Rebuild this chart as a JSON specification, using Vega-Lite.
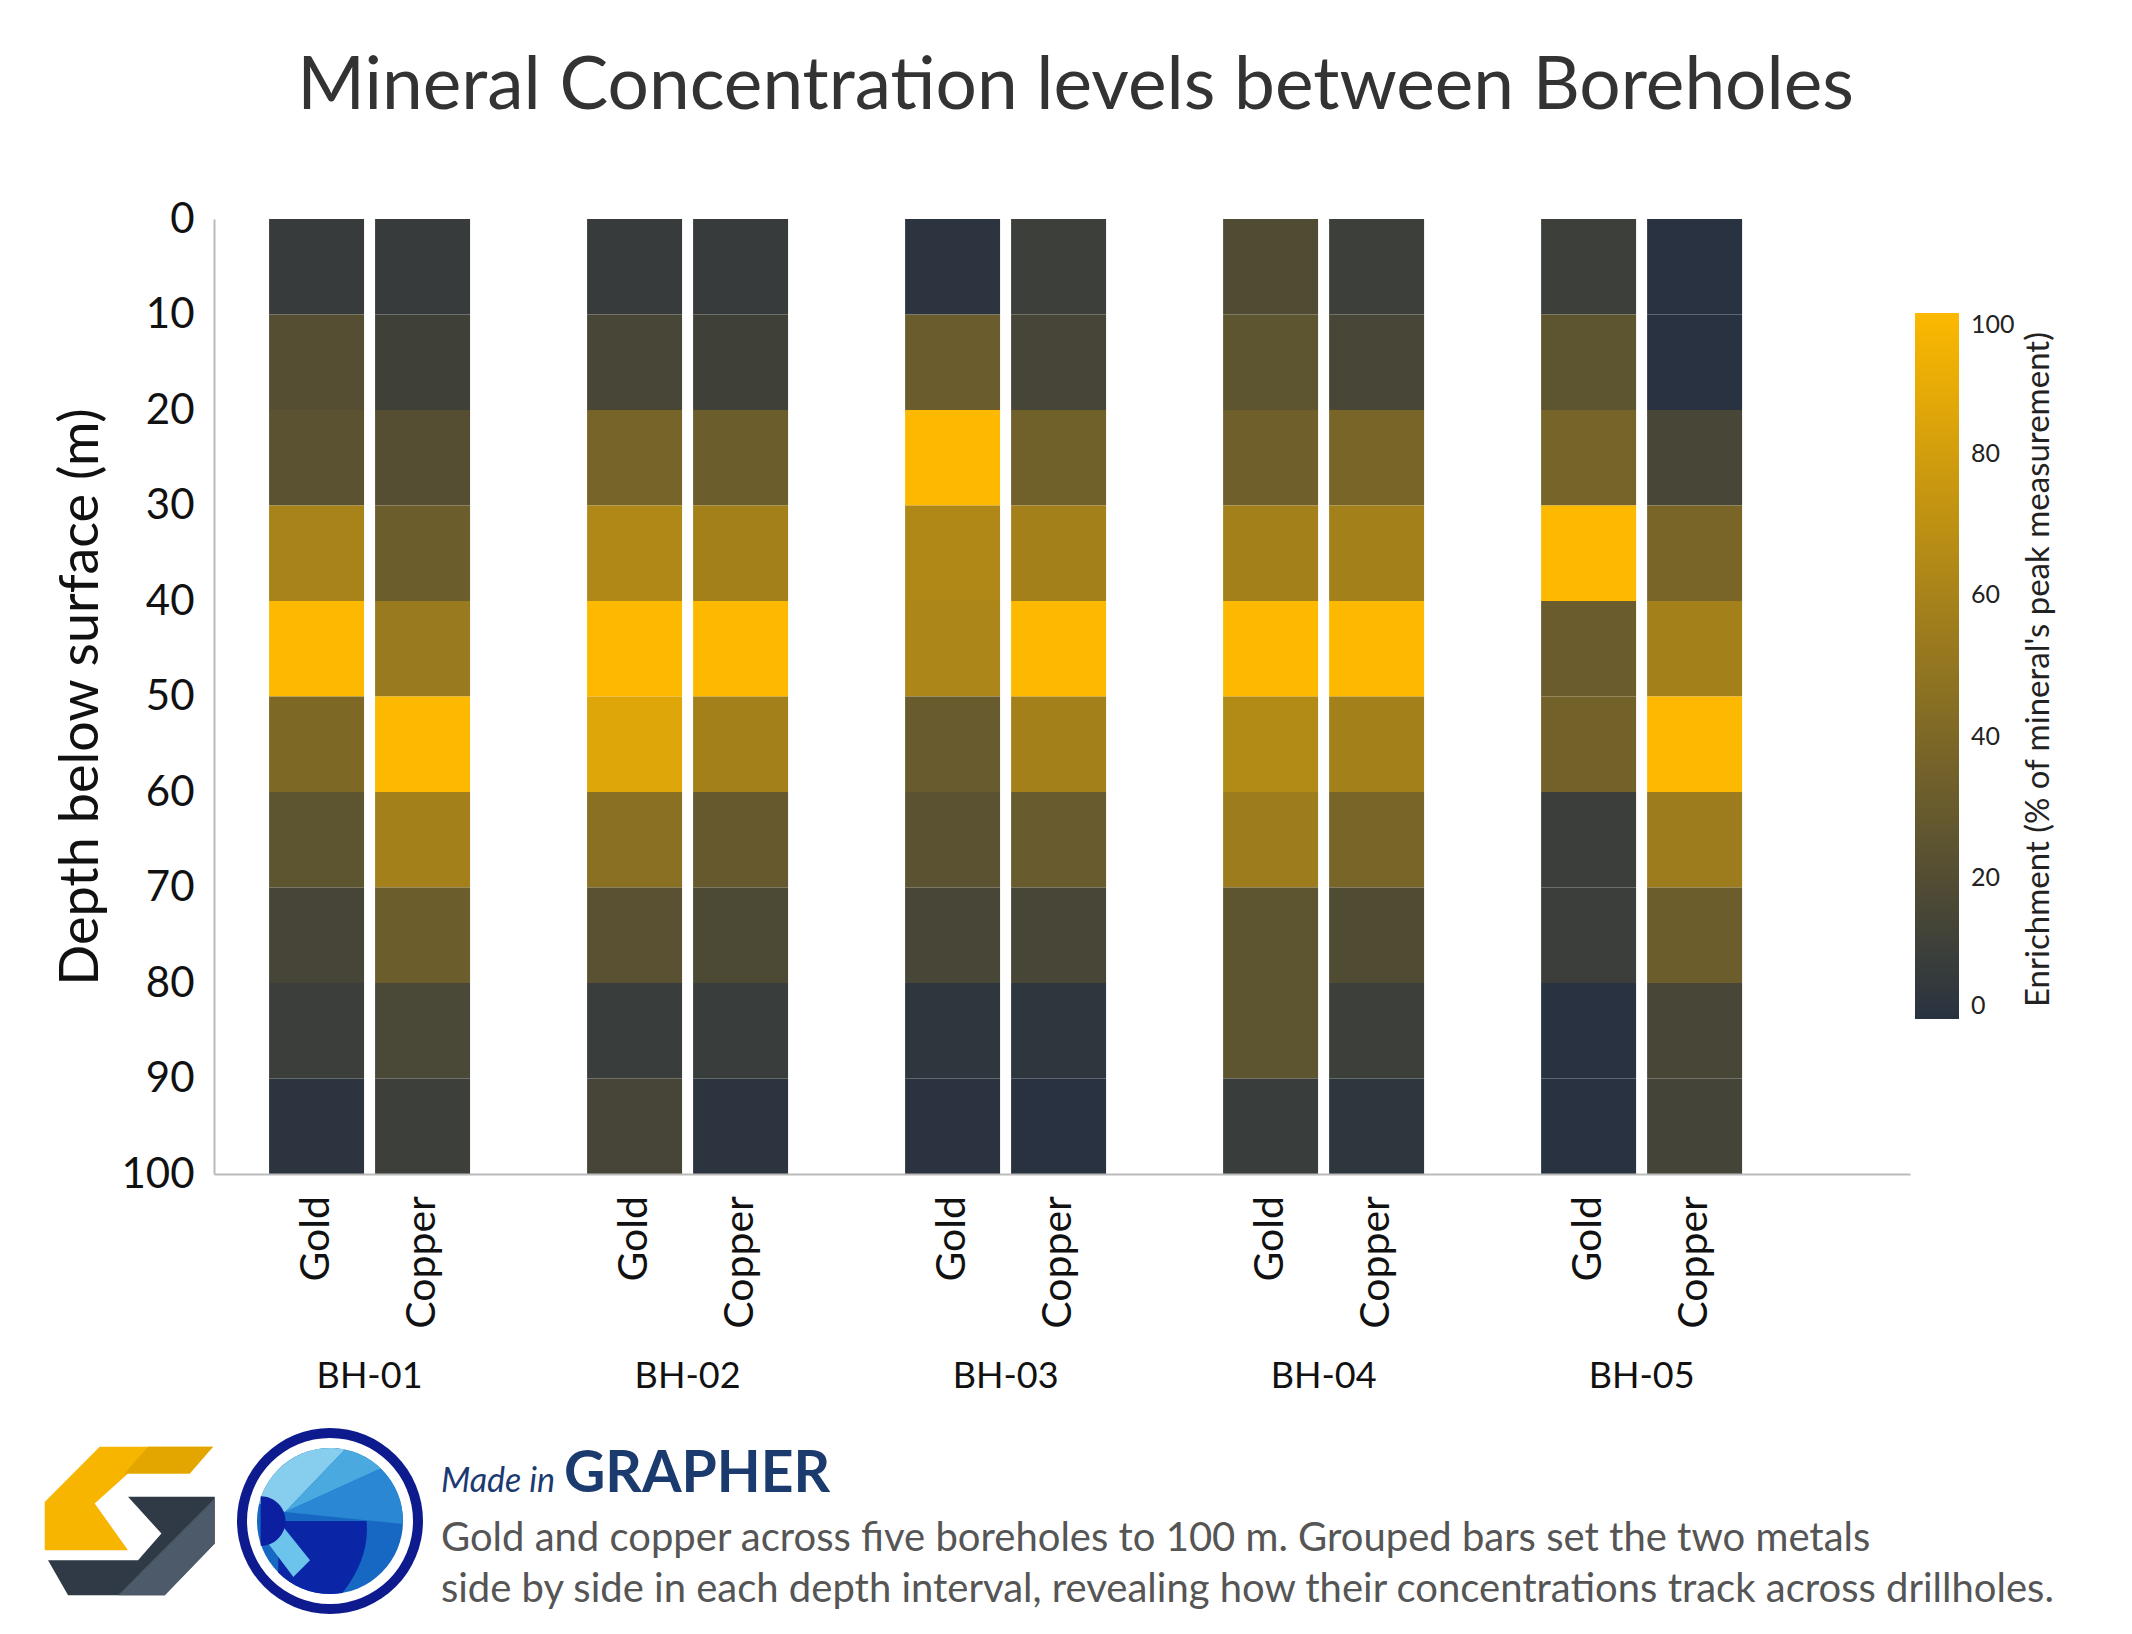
{
  "$schema": "https://vega.github.io/schema/vega-lite/v6.json",
  "background": "white",
  "padding": {"left": 44, "top": 51, "right": 10, "bottom": 10},
  "title": {"text": "Mineral Concentration levels between Boreholes", "font": "Lato", "fontSize": 73, "fontWeight": "normal", "color": "#333333", "anchor": "middle", "dx": 25, "offset": 74},
  "spacing": 34,
  "vconcat": [
    {
      "width": 1696,
      "height": 955,
      "data": {"values": [
        {"borehole":"BH-01","mineral":"Gold","top":0,"bottom":10,"value":7},
        {"borehole":"BH-01","mineral":"Gold","top":10,"bottom":20,"value":21},
        {"borehole":"BH-01","mineral":"Gold","top":20,"bottom":30,"value":24},
        {"borehole":"BH-01","mineral":"Gold","top":30,"bottom":40,"value":60},
        {"borehole":"BH-01","mineral":"Gold","top":40,"bottom":50,"value":100},
        {"borehole":"BH-01","mineral":"Gold","top":50,"bottom":60,"value":40},
        {"borehole":"BH-01","mineral":"Gold","top":60,"bottom":70,"value":25},
        {"borehole":"BH-01","mineral":"Gold","top":70,"bottom":80,"value":14},
        {"borehole":"BH-01","mineral":"Gold","top":80,"bottom":90,"value":9},
        {"borehole":"BH-01","mineral":"Gold","top":90,"bottom":100,"value":2},
        {"borehole":"BH-01","mineral":"Copper","top":0,"bottom":10,"value":7},
        {"borehole":"BH-01","mineral":"Copper","top":10,"bottom":20,"value":11},
        {"borehole":"BH-01","mineral":"Copper","top":20,"bottom":30,"value":21},
        {"borehole":"BH-01","mineral":"Copper","top":30,"bottom":40,"value":32},
        {"borehole":"BH-01","mineral":"Copper","top":40,"bottom":50,"value":53},
        {"borehole":"BH-01","mineral":"Copper","top":50,"bottom":60,"value":100},
        {"borehole":"BH-01","mineral":"Copper","top":60,"bottom":70,"value":58},
        {"borehole":"BH-01","mineral":"Copper","top":70,"bottom":80,"value":32},
        {"borehole":"BH-01","mineral":"Copper","top":80,"bottom":90,"value":16},
        {"borehole":"BH-01","mineral":"Copper","top":90,"bottom":100,"value":10},
        {"borehole":"BH-02","mineral":"Gold","top":0,"bottom":10,"value":7},
        {"borehole":"BH-02","mineral":"Gold","top":10,"bottom":20,"value":15},
        {"borehole":"BH-02","mineral":"Gold","top":20,"bottom":30,"value":37},
        {"borehole":"BH-02","mineral":"Gold","top":30,"bottom":40,"value":64},
        {"borehole":"BH-02","mineral":"Gold","top":40,"bottom":50,"value":100},
        {"borehole":"BH-02","mineral":"Gold","top":50,"bottom":60,"value":86},
        {"borehole":"BH-02","mineral":"Gold","top":60,"bottom":70,"value":46},
        {"borehole":"BH-02","mineral":"Gold","top":70,"bottom":80,"value":23},
        {"borehole":"BH-02","mineral":"Gold","top":80,"bottom":90,"value":8},
        {"borehole":"BH-02","mineral":"Gold","top":90,"bottom":100,"value":14},
        {"borehole":"BH-02","mineral":"Copper","top":0,"bottom":10,"value":7},
        {"borehole":"BH-02","mineral":"Copper","top":10,"bottom":20,"value":11},
        {"borehole":"BH-02","mineral":"Copper","top":20,"bottom":30,"value":32},
        {"borehole":"BH-02","mineral":"Copper","top":30,"bottom":40,"value":58},
        {"borehole":"BH-02","mineral":"Copper","top":40,"bottom":50,"value":100},
        {"borehole":"BH-02","mineral":"Copper","top":50,"bottom":60,"value":58},
        {"borehole":"BH-02","mineral":"Copper","top":60,"bottom":70,"value":29},
        {"borehole":"BH-02","mineral":"Copper","top":70,"bottom":80,"value":17},
        {"borehole":"BH-02","mineral":"Copper","top":80,"bottom":90,"value":8},
        {"borehole":"BH-02","mineral":"Copper","top":90,"bottom":100,"value":2},
        {"borehole":"BH-03","mineral":"Gold","top":0,"bottom":10,"value":2},
        {"borehole":"BH-03","mineral":"Gold","top":10,"bottom":20,"value":31},
        {"borehole":"BH-03","mineral":"Gold","top":20,"bottom":30,"value":100},
        {"borehole":"BH-03","mineral":"Gold","top":30,"bottom":40,"value":64},
        {"borehole":"BH-03","mineral":"Gold","top":40,"bottom":50,"value":62},
        {"borehole":"BH-03","mineral":"Gold","top":50,"bottom":60,"value":30},
        {"borehole":"BH-03","mineral":"Gold","top":60,"bottom":70,"value":24},
        {"borehole":"BH-03","mineral":"Gold","top":70,"bottom":80,"value":15},
        {"borehole":"BH-03","mineral":"Gold","top":80,"bottom":90,"value":3},
        {"borehole":"BH-03","mineral":"Gold","top":90,"bottom":100,"value":1},
        {"borehole":"BH-03","mineral":"Copper","top":0,"bottom":10,"value":10},
        {"borehole":"BH-03","mineral":"Copper","top":10,"bottom":20,"value":14},
        {"borehole":"BH-03","mineral":"Copper","top":20,"bottom":30,"value":34},
        {"borehole":"BH-03","mineral":"Copper","top":30,"bottom":40,"value":58},
        {"borehole":"BH-03","mineral":"Copper","top":40,"bottom":50,"value":100},
        {"borehole":"BH-03","mineral":"Copper","top":50,"bottom":60,"value":58},
        {"borehole":"BH-03","mineral":"Copper","top":60,"bottom":70,"value":30},
        {"borehole":"BH-03","mineral":"Copper","top":70,"bottom":80,"value":15},
        {"borehole":"BH-03","mineral":"Copper","top":80,"bottom":90,"value":3},
        {"borehole":"BH-03","mineral":"Copper","top":90,"bottom":100,"value":0},
        {"borehole":"BH-04","mineral":"Gold","top":0,"bottom":10,"value":19},
        {"borehole":"BH-04","mineral":"Gold","top":10,"bottom":20,"value":25},
        {"borehole":"BH-04","mineral":"Gold","top":20,"bottom":30,"value":33},
        {"borehole":"BH-04","mineral":"Gold","top":30,"bottom":40,"value":58},
        {"borehole":"BH-04","mineral":"Gold","top":40,"bottom":50,"value":100},
        {"borehole":"BH-04","mineral":"Gold","top":50,"bottom":60,"value":65},
        {"borehole":"BH-04","mineral":"Gold","top":60,"bottom":70,"value":55},
        {"borehole":"BH-04","mineral":"Gold","top":70,"bottom":80,"value":25},
        {"borehole":"BH-04","mineral":"Gold","top":80,"bottom":90,"value":25},
        {"borehole":"BH-04","mineral":"Gold","top":90,"bottom":100,"value":8},
        {"borehole":"BH-04","mineral":"Copper","top":0,"bottom":10,"value":10},
        {"borehole":"BH-04","mineral":"Copper","top":10,"bottom":20,"value":15},
        {"borehole":"BH-04","mineral":"Copper","top":20,"bottom":30,"value":38},
        {"borehole":"BH-04","mineral":"Copper","top":30,"bottom":40,"value":58},
        {"borehole":"BH-04","mineral":"Copper","top":40,"bottom":50,"value":100},
        {"borehole":"BH-04","mineral":"Copper","top":50,"bottom":60,"value":58},
        {"borehole":"BH-04","mineral":"Copper","top":60,"bottom":70,"value":38},
        {"borehole":"BH-04","mineral":"Copper","top":70,"bottom":80,"value":19},
        {"borehole":"BH-04","mineral":"Copper","top":80,"bottom":90,"value":10},
        {"borehole":"BH-04","mineral":"Copper","top":90,"bottom":100,"value":3},
        {"borehole":"BH-05","mineral":"Gold","top":0,"bottom":10,"value":10},
        {"borehole":"BH-05","mineral":"Gold","top":10,"bottom":20,"value":25},
        {"borehole":"BH-05","mineral":"Gold","top":20,"bottom":30,"value":37},
        {"borehole":"BH-05","mineral":"Gold","top":30,"bottom":40,"value":100},
        {"borehole":"BH-05","mineral":"Gold","top":40,"bottom":50,"value":31},
        {"borehole":"BH-05","mineral":"Gold","top":50,"bottom":60,"value":35},
        {"borehole":"BH-05","mineral":"Gold","top":60,"bottom":70,"value":9},
        {"borehole":"BH-05","mineral":"Gold","top":70,"bottom":80,"value":9},
        {"borehole":"BH-05","mineral":"Gold","top":80,"bottom":90,"value":0},
        {"borehole":"BH-05","mineral":"Gold","top":90,"bottom":100,"value":0},
        {"borehole":"BH-05","mineral":"Copper","top":0,"bottom":10,"value":0},
        {"borehole":"BH-05","mineral":"Copper","top":10,"bottom":20,"value":0},
        {"borehole":"BH-05","mineral":"Copper","top":20,"bottom":30,"value":15},
        {"borehole":"BH-05","mineral":"Copper","top":30,"bottom":40,"value":38},
        {"borehole":"BH-05","mineral":"Copper","top":40,"bottom":50,"value":58},
        {"borehole":"BH-05","mineral":"Copper","top":50,"bottom":60,"value":100},
        {"borehole":"BH-05","mineral":"Copper","top":60,"bottom":70,"value":55},
        {"borehole":"BH-05","mineral":"Copper","top":70,"bottom":80,"value":32},
        {"borehole":"BH-05","mineral":"Copper","top":80,"bottom":90,"value":15},
        {"borehole":"BH-05","mineral":"Copper","top":90,"bottom":100,"value":13}
      ]},
      "layer": [
        {
          "mark": {"type": "rect"},
          "encoding": {
            "x": {"field": "borehole", "type": "nominal", "sort": null,
              "scale": {"paddingInner": 0.368, "paddingOuter": 0.3506, "align": 0.247},
              "axis": {"title": null, "labelAngle": 0, "labelFont": "Lato", "labelFontSize": 36, "labelColor": "#111111", "labelPadding": 185, "ticks": false, "domainColor": "#bbbbbb", "domainWidth": 2}},
            "xOffset": {"field": "mineral", "type": "nominal", "sort": ["Gold", "Copper"], "scale": {"paddingInner": 0.104, "paddingOuter": 0}},
            "y": {"field": "top", "type": "quantitative",
              "scale": {"domain": [0, 100], "reverse": true, "nice": false, "zero": false},
              "axis": {"title": "Depth below surface (m)", "values": [0,10,20,30,40,50,60,70,80,90,100], "ticks": false, "grid": false, "domainColor": "#bbbbbb", "domainWidth": 2, "labelFont": "Lato", "labelFontSize": 42, "labelColor": "#111111", "labelPadding": 20, "titleFont": "Lato", "titleFontSize": 54, "titleFontWeight": "normal", "titleColor": "#111111", "titlePadding": 12}},
            "y2": {"field": "bottom"},
            "color": {"field": "value", "type": "quantitative",
              "scale": {"domain": [0, 100], "range": ["#283240", "#fdb900"], "interpolate": "rgb"},
              "legend": {"orient": "none", "legendX": 1701, "legendY": 94, "direction": "vertical", "gradientLength": 706, "gradientThickness": 44, "values": [0,20,40,60,80,100], "labelFont": "Lato", "labelFontSize": 25, "labelColor": "#222222", "labelOffset": 12, "title": null}}
          }
        },
        {
          "transform": [{"filter": "datum.bottom === 100"}],
          "mark": {"type": "text", "angle": 270, "align": "right", "baseline": "middle", "dx": -22, "font": "Lato", "fontSize": 41, "color": "#111111"},
          "encoding": {
            "x": {"field": "borehole", "type": "nominal", "sort": null},
            "xOffset": {"field": "mineral", "type": "nominal", "sort": ["Gold", "Copper"]},
            "y": {"field": "bottom", "type": "quantitative",
              "scale": {"domain": [0, 100], "reverse": true, "nice": false, "zero": false},
              "axis": {"orient": "right", "title": "Enrichment (% of mineral's peak measurement)", "titleAngle": 270, "titleX": 128, "titleY": 450, "titleAlign": "center", "titleBaseline": "middle", "titleFont": "Lato", "titleFontSize": 33, "titleFontWeight": "normal", "titleColor": "#222222", "titleLimit": 2000, "domain": false, "labels": false, "ticks": false, "grid": false}},
            "text": {"field": "mineral"}
          }
        }
      ],
      "resolve": {"scale": {"y": "independent"}, "axis": {"y": "independent"}}
    },
    {
      "width": 1696,
      "height": 160,
      "data": {"values": [
        {"part": "made", "label": "Made in"},
        {"part": "brand", "label": "GRAPHER"},
        {"part": "line1", "label": "Gold and copper across five boreholes to 100 m. Grouped bars set the two metals"},
        {"part": "line2", "label": "side by side in each depth interval, revealing how their concentrations track across drillholes."}
      ]},
      "layer": [
        {
          "transform": [{"filter": "datum.part === 'made'"}],
          "mark": {"type": "text", "align": "left", "baseline": "alphabetic", "font": "Lato", "fontStyle": "italic", "fontSize": 34, "color": "#1c3a72"},
          "encoding": {
            "x": {"datum": 13.38, "type": "quantitative", "scale": {"domain": [0, 100]}, "axis": null},
            "y": {"datum": 25.6, "type": "quantitative", "scale": {"domain": [0, 100], "reverse": true}, "axis": null},
            "text": {"field": "label"}
          }
        },
        {
          "transform": [{"filter": "datum.part === 'brand'"}],
          "mark": {"type": "text", "align": "left", "baseline": "alphabetic", "dx": 123, "font": "Lato", "fontWeight": "bold", "fontSize": 57, "color": "#1b3a6e"},
          "encoding": {
            "x": {"datum": 13.38, "type": "quantitative", "scale": {"domain": [0, 100]}},
            "y": {"datum": 25.6, "type": "quantitative", "scale": {"domain": [0, 100], "reverse": true}},
            "text": {"field": "label"}
          }
        },
        {
          "transform": [{"filter": "datum.part === 'line1'"}],
          "mark": {"type": "text", "align": "left", "baseline": "alphabetic", "font": "Lato", "fontSize": 40, "color": "#555555"},
          "encoding": {
            "x": {"datum": 13.38, "type": "quantitative", "scale": {"domain": [0, 100]}},
            "y": {"datum": 62.5, "type": "quantitative", "scale": {"domain": [0, 100], "reverse": true}},
            "text": {"field": "label"}
          }
        },
        {
          "transform": [{"filter": "datum.part === 'line2'"}],
          "mark": {"type": "text", "align": "left", "baseline": "alphabetic", "font": "Lato", "fontSize": 40, "color": "#555555"},
          "encoding": {
            "x": {"datum": 13.38, "type": "quantitative", "scale": {"domain": [0, 100]}},
            "y": {"datum": 94.4, "type": "quantitative", "scale": {"domain": [0, 100], "reverse": true}},
            "text": {"field": "label"}
          }
        },
        {
          "data": {"values": [{"logo": "golden"}]},
          "mark": {"type": "point", "filled": true, "opacity": 1, "strokeWidth": 0, "size": 28900, "color": "#f7b500", "shape": "M -0.353 -0.873 L 0.98 -0.873 L 0.706 -0.559 L -0.02 -0.559 L -0.412 -0.206 L -0.02 0.343 L -1 0.343 L -1 -0.225 Z"},
          "encoding": {
            "x": {"datum": -4.97, "type": "quantitative", "scale": {"domain": [0, 100]}},
            "y": {"datum": 43.75, "type": "quantitative", "scale": {"domain": [0, 100], "reverse": true}}
          }
        },
        {
          "data": {"values": [{"logo": "golden"}]},
          "mark": {"type": "point", "filled": true, "opacity": 1, "strokeWidth": 0, "size": 28900, "color": "#e3a600", "shape": "M 0.216 -0.873 L 0.98 -0.873 L 0.706 -0.559 L -0.06 -0.559 Z"},
          "encoding": {
            "x": {"datum": -4.97, "type": "quantitative", "scale": {"domain": [0, 100]}},
            "y": {"datum": 43.75, "type": "quantitative", "scale": {"domain": [0, 100], "reverse": true}}
          }
        },
        {
          "data": {"values": [{"logo": "golden"}]},
          "mark": {"type": "point", "filled": true, "opacity": 1, "strokeWidth": 0, "size": 28900, "color": "#2f3a46", "shape": "M -0.02 -0.284 L 1 -0.284 L 1 0.265 L 0.412 0.873 L -0.725 0.873 L -0.961 0.461 L 0.098 0.461 L 0.373 0.147 Z"},
          "encoding": {
            "x": {"datum": -4.97, "type": "quantitative", "scale": {"domain": [0, 100]}},
            "y": {"datum": 43.75, "type": "quantitative", "scale": {"domain": [0, 100], "reverse": true}}
          }
        },
        {
          "data": {"values": [{"logo": "golden"}]},
          "mark": {"type": "point", "filled": true, "opacity": 1, "strokeWidth": 0, "size": 28900, "color": "#4d5a69", "shape": "M 1 -0.265 L 1 0.265 L 0.412 0.873 L -0.137 0.873 Z"},
          "encoding": {
            "x": {"datum": -4.97, "type": "quantitative", "scale": {"domain": [0, 100]}},
            "y": {"datum": 43.75, "type": "quantitative", "scale": {"domain": [0, 100], "reverse": true}}
          }
        },
        {
          "data": {"values": [{"logo": "grapher"}]},
          "mark": {"type": "point", "filled": true, "opacity": 1, "strokeWidth": 0, "size": 34596, "color": "#0e1b8e", "shape": "circle"},
          "encoding": {
            "x": {"datum": 6.84, "type": "quantitative", "scale": {"domain": [0, 100]}},
            "y": {"datum": 43.75, "type": "quantitative", "scale": {"domain": [0, 100], "reverse": true}}
          }
        },
        {
          "data": {"values": [{"logo": "grapher"}]},
          "mark": {"type": "point", "filled": true, "opacity": 1, "strokeWidth": 0, "size": 27556, "color": "#ffffff", "shape": "circle"},
          "encoding": {
            "x": {"datum": 6.84, "type": "quantitative", "scale": {"domain": [0, 100]}},
            "y": {"datum": 43.75, "type": "quantitative", "scale": {"domain": [0, 100], "reverse": true}}
          }
        },
        {
          "data": {"values": [{"logo": "grapher"}]},
          "mark": {"type": "point", "filled": true, "opacity": 1, "strokeWidth": 0, "size": 21316, "color": "#1668c2", "shape": "circle"},
          "encoding": {
            "x": {"datum": 6.84, "type": "quantitative", "scale": {"domain": [0, 100]}},
            "y": {"datum": 43.75, "type": "quantitative", "scale": {"domain": [0, 100], "reverse": true}}
          }
        },
        {
          "data": {"values": [{"logo": "grapher"}]},
          "mark": {"type": "point", "filled": true, "opacity": 1, "strokeWidth": 0, "size": 21316, "color": "#86cdee", "shape": "M -0.616 -0.123 L -0.97 -0.24 A 1 1 0 0 1 0.205 -0.978 Z"},
          "encoding": {
            "x": {"datum": 6.84, "type": "quantitative", "scale": {"domain": [0, 100]}},
            "y": {"datum": 43.75, "type": "quantitative", "scale": {"domain": [0, 100], "reverse": true}}
          }
        },
        {
          "data": {"values": [{"logo": "grapher"}]},
          "mark": {"type": "point", "filled": true, "opacity": 1, "strokeWidth": 0, "size": 21316, "color": "#4aa9de", "shape": "M -0.616 -0.123 L 0.205 -0.978 A 1 1 0 0 1 0.695 -0.719 Z"},
          "encoding": {
            "x": {"datum": 6.84, "type": "quantitative", "scale": {"domain": [0, 100]}},
            "y": {"datum": 43.75, "type": "quantitative", "scale": {"domain": [0, 100], "reverse": true}}
          }
        },
        {
          "data": {"values": [{"logo": "grapher"}]},
          "mark": {"type": "point", "filled": true, "opacity": 1, "strokeWidth": 0, "size": 21316, "color": "#2a87d4", "shape": "M -0.616 -0.123 L 0.695 -0.719 A 1 1 0 0 1 0.999 0.04 Z"},
          "encoding": {
            "x": {"datum": 6.84, "type": "quantitative", "scale": {"domain": [0, 100]}},
            "y": {"datum": 43.75, "type": "quantitative", "scale": {"domain": [0, 100], "reverse": true}}
          }
        },
        {
          "data": {"values": [{"logo": "grapher"}]},
          "mark": {"type": "point", "filled": true, "opacity": 1, "strokeWidth": 0, "size": 21316, "color": "#0a26a6", "shape": "M -0.7 0 L 0.5 0 Q 0.55 0.5 0.17 0.985 A 1 1 0 0 1 -0.71 0.704 Z"},
          "encoding": {
            "x": {"datum": 6.84, "type": "quantitative", "scale": {"domain": [0, 100]}},
            "y": {"datum": 43.75, "type": "quantitative", "scale": {"domain": [0, 100], "reverse": true}}
          }
        },
        {
          "data": {"values": [{"logo": "grapher"}]},
          "mark": {"type": "point", "filled": true, "opacity": 1, "strokeWidth": 0, "size": 21316, "color": "#6cc3ec", "shape": "M -0.913 0.219 L -0.639 0.082 L -0.274 0.539 L -0.502 0.767 Z"},
          "encoding": {
            "x": {"datum": 6.84, "type": "quantitative", "scale": {"domain": [0, 100]}},
            "y": {"datum": 43.75, "type": "quantitative", "scale": {"domain": [0, 100], "reverse": true}}
          }
        },
        {
          "data": {"values": [{"logo": "grapher"}]},
          "mark": {"type": "point", "filled": true, "opacity": 1, "strokeWidth": 0, "size": 21316, "color": "#0b1fa0", "shape": "M -0.95 -0.34 A 0.34 0.34 0 0 1 -0.95 0.34 Z"},
          "encoding": {
            "x": {"datum": 6.84, "type": "quantitative", "scale": {"domain": [0, 100]}},
            "y": {"datum": 43.75, "type": "quantitative", "scale": {"domain": [0, 100], "reverse": true}}
          }
        }
      ]
    }
  ],
  "config": {"view": {"stroke": null}, "font": "Lato"}
}
